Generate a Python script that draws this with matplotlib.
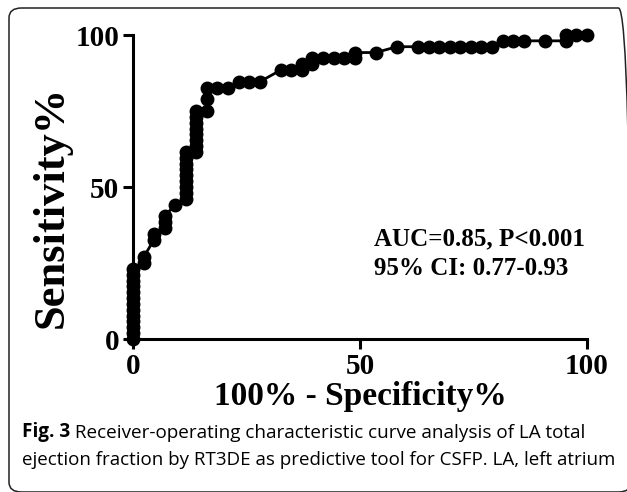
import numpy as np
import matplotlib
matplotlib.use('Agg')
import matplotlib.pyplot as plt
from matplotlib.patches import FancyBboxPatch

# ROC points (100% - specificity, sensitivity)
fpr = [0, 0, 0, 0, 0, 0, 0, 0, 0, 0, 0, 0, 0,
       2.33, 2.33, 4.65, 4.65, 6.98, 6.98, 6.98, 9.30,
       11.63, 11.63, 11.63, 11.63, 11.63, 11.63, 11.63, 11.63, 11.63,
       13.95, 13.95, 13.95, 13.95, 13.95, 13.95, 13.95, 13.95,
       16.28, 16.28, 16.28, 18.60, 20.93, 23.26, 25.58, 27.91,
       32.56, 34.88, 37.21, 37.21, 39.53, 39.53, 41.86, 44.19, 46.51,
       48.84, 48.84, 53.49, 58.14, 62.79, 65.12, 67.44, 69.77, 72.09,
       74.42, 76.74, 79.07, 81.40, 83.72, 86.05, 90.70, 95.35, 95.35,
       97.67, 100.0]
tpr = [0, 1.92, 3.85, 5.77, 7.69, 9.62, 11.54, 13.46, 15.38, 17.31, 19.23, 21.15, 23.08,
       25.00, 26.92, 32.69, 34.62, 36.54, 38.46, 40.38, 44.23,
       46.15, 48.08, 50.00, 51.92, 53.85, 55.77, 57.69, 59.62, 61.54,
       61.54, 63.46, 65.38, 67.31, 69.23, 71.15, 73.08, 75.00,
       75.00, 78.85, 82.69, 82.69, 82.69, 84.62, 84.62, 84.62,
       88.46, 88.46, 88.46, 90.38, 90.38, 92.31, 92.31, 92.31, 92.31,
       92.31, 94.23, 94.23, 96.15, 96.15, 96.15, 96.15, 96.15, 96.15,
       96.15, 96.15, 96.15, 98.08, 98.08, 98.08, 98.08, 98.08, 100.0,
       100.0, 100.0]

ticks = [0, 50, 100]
stats_text = "AUC=0.85, P<0.001\n95% CI: 0.77-0.93"
caption_bold = "Fig. 3"
caption_rest = " Receiver-operating characteristic curve analysis of LA total"
caption_line2 = "ejection fraction by RT3DE as predictive tool for CSFP. LA, left atrium"

fig = plt.figure(figsize=(6.27, 4.92), dpi=100)

# rounded frame around the figure (right and bottom edges run off the image)
frame = FancyBboxPatch((9 / 627, 1 - 492 / 492), 622 / 627, 484 / 492,
                       boxstyle="round,pad=0,rounding_size=0.02",
                       transform=fig.transFigure, fill=False,
                       edgecolor='#222222', linewidth=1.1)
fig.patches.append(frame)

ax = fig.add_axes([133 / 627, 1 - 339 / 492, (587 - 133) / 627, (339 - 35) / 492])
ax.plot(fpr, tpr, color='black', linewidth=2, marker='o', markersize=9,
        markerfacecolor='black', markeredgecolor='black', clip_on=False, zorder=3)

ax.set_xlim(0, 100)
ax.set_ylim(0, 100)
ax.set_xticks(ticks)
ax.set_yticks(ticks)

serif = 'Liberation Serif'
for lab in ax.get_xticklabels() + ax.get_yticklabels():
    lab.set_fontfamily(serif)
    lab.set_fontweight('bold')
    lab.set_fontsize(21)

ax.tick_params(direction='out', length=7, width=2.2, pad=3)
for side in ['top', 'right']:
    ax.spines[side].set_visible(False)
for side in ['left', 'bottom']:
    ax.spines[side].set_linewidth(2.2)

ax.set_xlabel('100% - Specificity%', fontfamily=serif, fontweight='bold',
              fontsize=24, labelpad=0.5)
ax.set_ylabel('Sensitivity%', fontfamily=serif, fontweight='bold',
              fontsize=32)
ax.yaxis.set_label_coords(-0.136, 0.435)

ax.text(53, 28, stats_text, fontfamily=serif, fontweight='bold', fontsize=18,
        linespacing=1.38, va='center', ha='left')

# caption
cap_font = 'Open Sans'
t1 = fig.text(22 / 627, 1 - 437 / 492, caption_bold, fontfamily=cap_font,
              fontweight='bold', fontsize=13.6, va='baseline')
ax.annotate(caption_rest, xy=(1, 0), xycoords=t1, fontfamily=cap_font,
            fontsize=13.6, va='bottom', ha='left', annotation_clip=False)
fig.text(22 / 627, 1 - 465 / 492, caption_line2, fontfamily=cap_font,
         fontsize=13.5, va='baseline')

fig.savefig('out.png', dpi=100)
